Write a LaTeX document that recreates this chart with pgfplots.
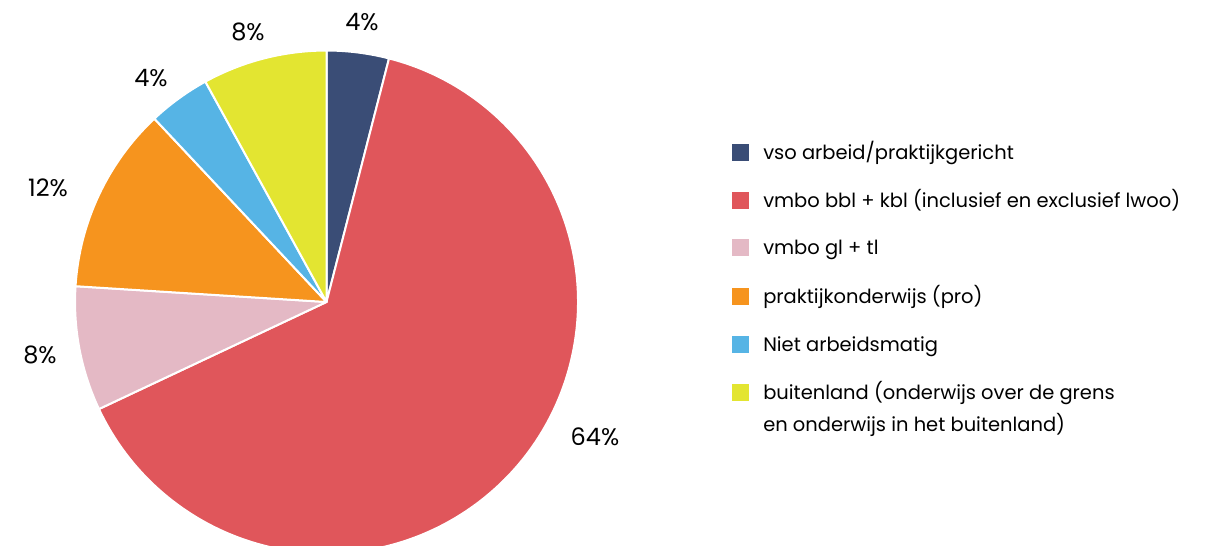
\documentclass[border=0pt]{standalone}
\usepackage{fontspec}
\setmainfont{Poppins}
\usepackage{pgfplots}
\usepackage{pgfplotstable}
\pgfplotsset{compat=1.18}

\definecolor{cvso}{RGB}{58,77,118}
\definecolor{cbbl}{RGB}{224,86,91}
\definecolor{cgltl}{RGB}{228,185,197}
\definecolor{cpro}{RGB}{246,148,30}
\definecolor{cniet}{RGB}{86,180,229}
\definecolor{cbuit}{RGB}{227,229,49}

% share in %, colour, label position (px, origin bottom left)
\pgfplotstableread[col sep=comma]{
pct,col,lx,ly
4,cvso,362,524
64,cbbl,595,109
8,cgltl,40,191
12,cpro,48,358
4,cniet,151,468
8,cbuit,248,514
}\piedata

\newcommand\legrow[3]{% y (px, centre), colour, text
  \fill[#2] (axis cs:732,#1-8.5) rectangle (axis cs:749,#1+8.5);
  \node[anchor=base west, inner sep=0pt, font=\legfont] at (axis cs:763,#1-7) {#3};
}
\newcommand\legfont{\fontsize{14.6}{18}\selectfont}

\begin{document}
\begin{tikzpicture}
\path[use as bounding box, clip] (0,0) rectangle (906pt,409.5pt);
\begin{axis}[
  anchor=origin, at={(0,0)},
  x=0.75pt, y=0.75pt, scale only axis,
  xmin=0, xmax=1208, ymin=0, ymax=546,
  hide axis, clip=false,
]
\pgfplotsextra{
  \def\cum{0}
  \pgfplotsforeachungrouped \i in {0,...,5}{%
    \pgfplotstablegetelem{\i}{pct}\of\piedata \let\pv\pgfplotsretval
    \pgfplotstablegetelem{\i}{col}\of\piedata \let\pc\pgfplotsretval
    \pgfmathsetmacro\a{90-3.6*\cum}
    \pgfmathsetmacro\cum{\cum+\pv}
    \pgfmathsetmacro\b{90-3.6*\cum}
    \fill[\pc, draw=white, line width=1.5pt, line join=round]
      (axis cs:326.5,244) -- ++(\a:188.6pt) arc[start angle=\a, end angle=\b, radius=188.6pt] -- cycle;
    \pgfplotstablegetelem{\i}{lx}\of\piedata \let\lx\pgfplotsretval
    \pgfplotstablegetelem{\i}{ly}\of\piedata \let\ly\pgfplotsretval
    \node[font=\fontsize{18}{21}\selectfont, inner sep=0pt] at (axis cs:\lx,\ly) {\pv\%};
  }
  \legrow{393}{cvso}{vso arbeid/praktijkgericht}
  \legrow{345}{cbbl}{vmbo bbl + kbl (inclusief en exclusief lwoo)}
  \legrow{298}{cgltl}{vmbo gl + tl}
  \legrow{249}{cpro}{praktijkonderwijs (pro)}
  \legrow{201}{cniet}{Niet arbeidsmatig}
  \legrow{153}{cbuit}{buitenland (onderwijs over de grens}
  \node[anchor=base west, inner sep=0pt, font=\legfont] at (axis cs:763,114) {en onderwijs in het buitenland)};
}
\end{axis}
\end{tikzpicture}
\end{document}
